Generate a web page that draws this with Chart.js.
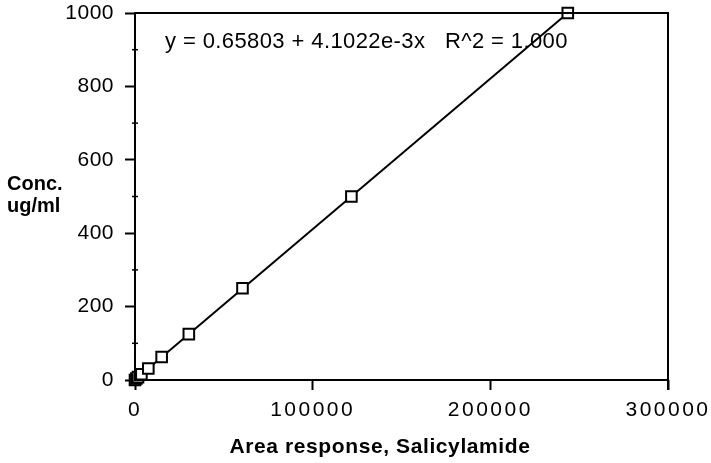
<!DOCTYPE html>
<html>
<head>
<meta charset="utf-8">
<script src="https://cdn.jsdelivr.net/npm/chart.js@4/dist/chart.umd.min.js"></script>
<style>
  html, body { margin: 0; padding: 0; background: #fff; }
  #wrap { width: 711px; height: 463px; }
</style>
</head>
<body>
<div id="wrap"><canvas id="calChart" width="711" height="463"></canvas></div>
<script>
// calibration points
const areaResponse = [0, 800, 1700, 3600, 7500, 15000, 30300, 60500, 121800, 243600];
const concentration = [0, 3.9, 7.8, 15.6, 31.25, 62.5, 125, 250, 500, 1000];

// ends of the fitted line
const fitX = [0, 243600];
const fitY = [0.66, 1000];

const xTicks = [0, 100000, 200000, 300000];
const yTicks = [0, 200, 400, 600, 800, 1000];
const yMinorTicks = [100, 300, 500, 700, 900];

const equationText = 'y = 0.65803 + 4.1022e-3x   R^2 = 1.000';
const xTitle = 'Area response, Salicylamide';
const yTitle = ['Conc.', 'ug/ml'];

const FONT = "'Liberation Sans', Arial, Helvetica, sans-serif";

// letter spacing on tick labels (the scan is a bit wide)
const spacingPlugin = {
  id: 'spacing',
  beforeDraw(chart) {
    [['x', '2.5px'], ['y', '0.5px']].forEach(([id, sp]) => {
      const scale = chart.scales[id];
      if (scale._spaced) return;
      const orig = scale.drawLabels.bind(scale);
      scale.drawLabels = function (area) {
        const ctx = this.ctx;
        ctx.save();
        ctx.letterSpacing = sp;
        orig(area);
        ctx.restore();
      };
      scale._spaced = true;
    });
  }
};

const framePlugin = {
  id: 'frame',
  afterDatasetsDraw(chart) {
    const { ctx, chartArea } = chart;
    const y = chart.scales.y;
    ctx.save();
    ctx.strokeStyle = '#000';
    ctx.lineWidth = 2;
    ctx.strokeRect(chartArea.left, chartArea.top, chartArea.right - chartArea.left, chartArea.bottom - chartArea.top);
    // right border runs a bit below the axis
    ctx.beginPath();
    ctx.moveTo(chartArea.right, chartArea.bottom);
    ctx.lineTo(chartArea.right, chartArea.bottom + 10);
    ctx.stroke();
    // small minor ticks on the y axis
    ctx.lineWidth = 1.5;
    yMinorTicks.forEach(v => {
      const py = y.getPixelForValue(v);
      ctx.beginPath();
      ctx.moveTo(chartArea.left - 3, py);
      ctx.lineTo(chartArea.left + 3, py);
      ctx.stroke();
    });
    ctx.restore();
  }
};

const textPlugin = {
  id: 'texts',
  afterDraw(chart) {
    const { ctx, chartArea } = chart;
    ctx.save();
    ctx.fillStyle = '#000';
    ctx.textBaseline = 'alphabetic';
    ctx.textAlign = 'left';
    ctx.font = '22px ' + FONT;
    ctx.letterSpacing = '0.4px';
    ctx.fillText(equationText, chartArea.left + 30, 48);

    ctx.letterSpacing = '0px';
    ctx.font = 'bold 20px ' + FONT;
    ctx.fillText(yTitle[0], 7, 190);
    ctx.fillText(yTitle[1], 7, 212);

    ctx.font = 'bold 21px ' + FONT;
    ctx.letterSpacing = '0.6px';
    ctx.textAlign = 'center';
    ctx.fillText(xTitle, 380, 453);
    ctx.restore();
  }
};

const ctx = document.getElementById('calChart').getContext('2d');
new Chart(ctx, {
  type: 'scatter',
  data: {
    datasets: [
      {
        label: 'standards',
        data: areaResponse.map((v, i) => ({ x: v, y: concentration[i] })),
        pointStyle: 'rect',
        pointRadius: 7.5,
        pointHoverRadius: 7.5,
        pointBorderWidth: 2,
        pointBorderColor: '#000',
        pointBackgroundColor: '#fff',
        showLine: false,
        clip: false,
        order: 1
      },
      {
        label: 'fit',
        type: 'line',
        data: fitX.map((v, i) => ({ x: v, y: fitY[i] })),
        borderColor: '#000',
        borderWidth: 2,
        pointRadius: 0,
        fill: false,
        clip: false,
        order: 2
      }
    ]
  },
  options: {
    responsive: false,
    animation: false,
    layout: { padding: { top: 13, right: 43, left: 0, bottom: 0 } },
    plugins: {
      legend: { display: false },
      tooltip: { enabled: false }
    },
    scales: {
      x: {
        type: 'linear',
        min: 0,
        max: 300000,
        afterFit: s => { s.height = 83; s.paddingLeft = 0; s.paddingRight = 0; },
        afterBuildTicks: s => { s.ticks = xTicks.map(v => ({ value: v })); },
        border: { display: false },
        grid: { drawOnChartArea: false, tickLength: 10, tickWidth: 2, tickColor: '#000' },
        ticks: { color: '#000', padding: 8, maxRotation: 0, font: { family: FONT, size: 21 }, callback: v => String(v) }
      },
      y: {
        type: 'linear',
        min: 0,
        max: 1000,
        afterFit: s => { s.width = 135; s.paddingTop = 0; s.paddingBottom = 0; },
        afterBuildTicks: s => { s.ticks = yTicks.map(v => ({ value: v })); },
        border: { display: false },
        grid: { drawOnChartArea: false, tickLength: 10, tickWidth: 2, tickColor: '#000' },
        ticks: { color: '#000', padding: 11, font: { family: FONT, size: 21 }, callback: v => String(v) }
      }
    }
  },
  plugins: [spacingPlugin, framePlugin, textPlugin]
});
</script>
</body>
</html>
